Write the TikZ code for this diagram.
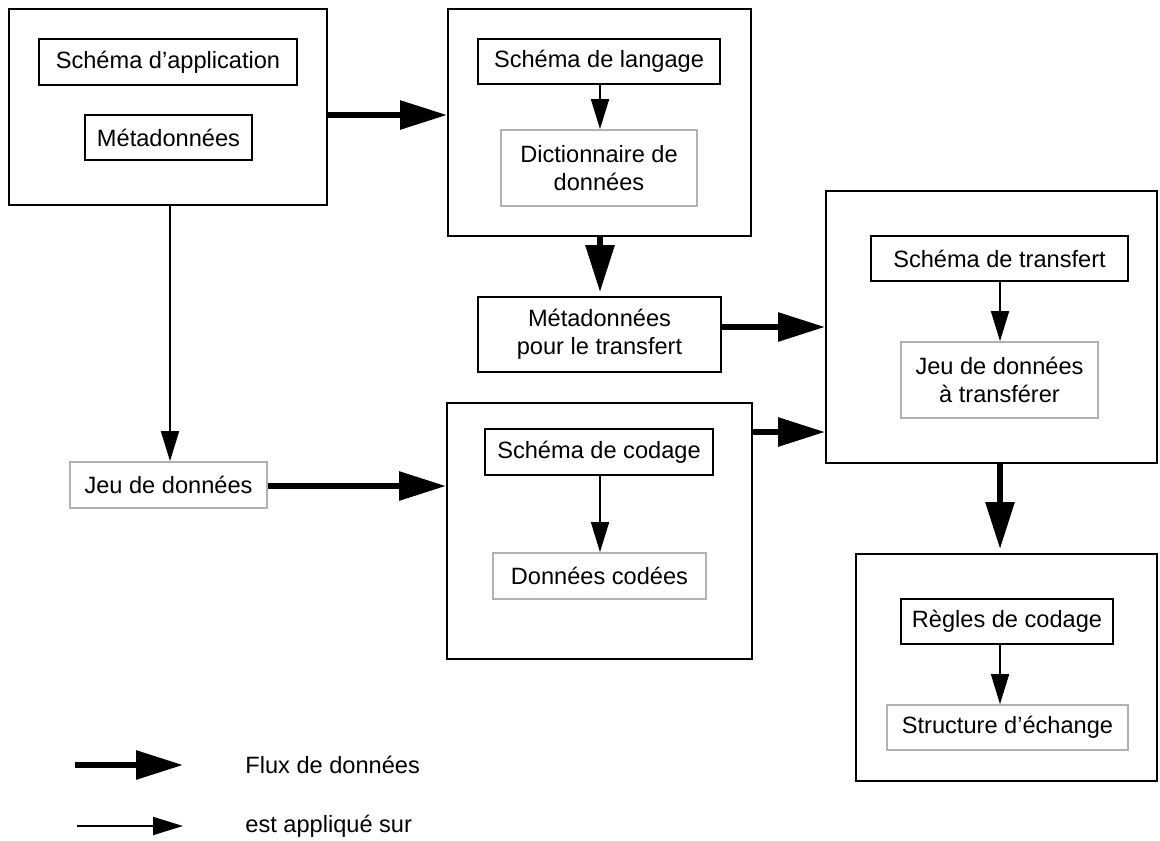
\documentclass[tikz,border=0pt]{standalone}
\usepackage{fontspec}
\setmainfont{Liberation Sans}
\usetikzlibrary{arrows.meta}
\newcommand\lbl{\fontsize{11.8}{13.8}\selectfont}
\newcommand\bx[7]{\node[#6, minimum width={(#4-#2)*0.5pt}, minimum height={(#5-#3)*0.5pt}] (#1) at ({(#2+#4)/2},{(#3+#5)/2}) {#7};}
\begin{document}
\begin{tikzpicture}[x=0.5pt,y=-0.5pt,
  outer/.style={draw=black, line width=1pt, inner sep=0pt},
  inbox/.style={draw=black, line width=0.9pt, inner sep=0pt, font=\lbl, align=center},
  gbox/.style={draw=black!30, line width=0.9pt, inner sep=0pt, font=\lbl, align=center},
  flux/.style={line width=3pt, -{Triangle[length=23.5pt,width=14pt]}},
  applique/.style={line width=0.9pt, -{Triangle[length=15pt,width=9pt]}},
  legtext/.style={font=\lbl, anchor=west, inner sep=0pt}
]
\useasboundingbox (0,0) rectangle (1160,840);
% outer boxes
\bx{A}{9}{9}{327}{205}{outer}{}
\bx{B}{448}{9}{751}{236}{outer}{}
\bx{D}{447}{403}{752}{659}{outer}{}
\bx{C}{826}{191}{1157}{463}{outer}{}
\bx{E}{856}{554}{1157}{781}{outer}{}
% inner boxes
\bx{A1}{39}{39}{297}{85}{inbox}{Schéma d’application}
\bx{A2}{85}{115}{252}{160}{inbox}{Métadonnées}
\bx{B1}{478}{39}{720}{84}{inbox}{Schéma de langage}
\bx{B2}{501}{130}{697}{206}{gbox}{Dictionnaire de\\données}
\bx{M}{478}{297}{721}{372}{inbox}{Métadonnées\\pour le transfert}
\bx{D1}{485}{429}{713}{475}{inbox}{Schéma de codage}
\bx{D2}{493}{553}{706}{599}{gbox}{Données codées}
\bx{C1}{871}{236}{1128}{281}{inbox}{Schéma de transfert}
\bx{C2}{901}{342}{1098}{418}{gbox}{Jeu de données\\à transférer}
\bx{E1}{901}{599}{1113}{644}{inbox}{Règles de codage}
\bx{E2}{887}{705}{1128}{750}{gbox}{Structure d’échange}
\bx{J}{70}{462}{267}{508}{gbox}{Jeu de données}
% data flows
\draw[flux] (A.east |- 0,115) -- (B.west |- 0,115);
\draw[flux, shorten >=2pt] (B.south -| 600,0) -- (M.north -| 600,0);
\draw[flux] (M.east |- 0,327) -- (C.west |- 0,327);
\draw[flux] (J.east |- 0,486) -- (D.west |- 0,486);
\draw[flux] (D.east |- 0,432) -- (C.west |- 0,432);
\draw[flux, shorten >=2pt] (C.south -| 1000,0) -- (E.north -| 1000,0);
% applied on
\draw[applique] (A.south -| 170,0) -- (J.north -| 170,0);
\draw[applique] (B1.south -| 600,0) -- (B2.north -| 600,0);
\draw[applique] (D1.south -| 600,0) -- (D2.north -| 600,0);
\draw[applique] (C1.south -| 1000,0) -- (C2.north -| 1000,0);
\draw[applique] (E1.south -| 1000,0) -- (E2.north -| 1000,0);
% legend
\coordinate (L1s) at (75,765);
\coordinate (L1e) at (183,765);
\coordinate (L2s) at (77,826);
\coordinate (L2e) at (183,826);
\draw[flux] (L1s) -- (L1e);
\draw[applique] (L2s) -- (L2e);
\node[legtext] (T1) at (245,765) {Flux de données};
\node[legtext] (T2) at (245,826) {est appliqué sur};
\end{tikzpicture}
\end{document}
